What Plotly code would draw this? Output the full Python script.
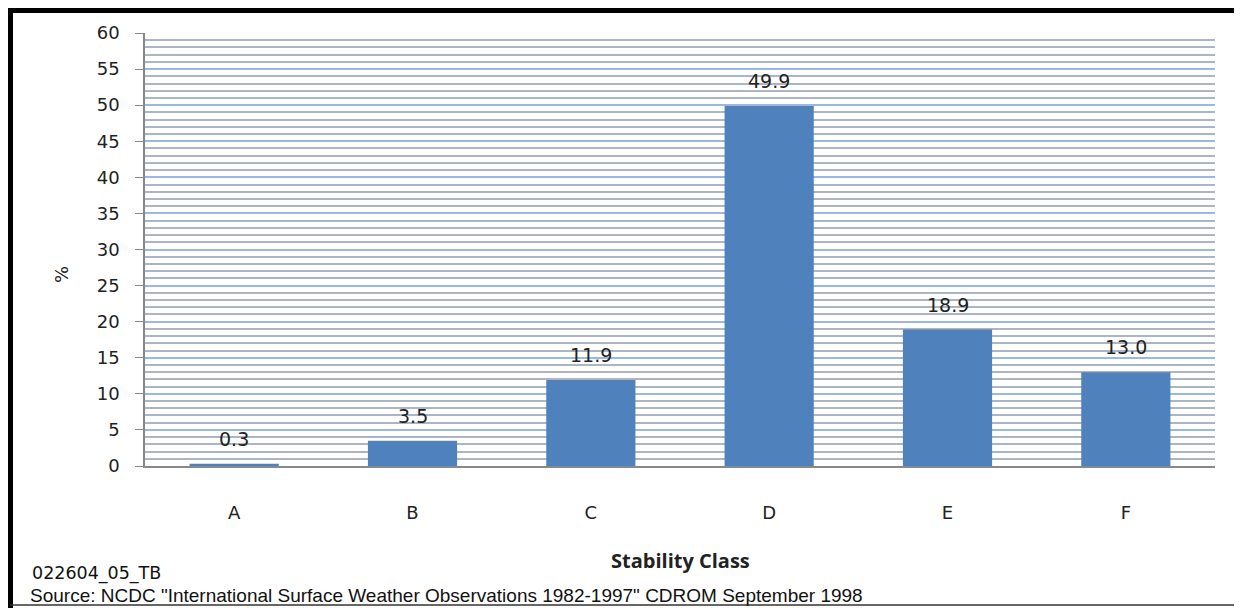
import plotly.graph_objects as go

# ---- data ----
categories = ["A", "B", "C", "D", "E", "F"]
percent = [0.3, 3.5, 11.9, 49.9, 18.9, 13.0]
value_labels = ["0.3", "3.5", "11.9", "49.9", "18.9", "13.0"]
y_ticks = list(range(0, 61, 5))
x_title = "Stability Class"
y_title = "%"
footnote_id = "022604_05_TB"
footnote_source = 'Source: NCDC "International Surface Weather Observations 1982-1997" CDROM September 1998'

# ---- layout geometry (reference-page pixels; page body has an 8px offset) ----
OFF = 8
W, H = 1242 - OFF, 608 - OFF
L, R, T, B = 145 - OFF, 1215 - OFF, 33 - OFF, 466 - OFF  # plot area edges in figure px


def px(x):
    return (x - OFF - L) / (R - L)


def py(y):
    return (B - (y - OFF)) / (B - T)


fig = go.Figure()
fig.add_trace(go.Bar(
    x=categories, y=percent,
    marker=dict(color="#4f81bd", line=dict(width=0)),
    width=0.5, hoverinfo="skip",
))

annotations = []
for c, v, lab in zip(categories, percent, value_labels):
    annotations.append(dict(
        x=c, y=v, xref="x", yref="y", text=lab, showarrow=False,
        yanchor="bottom", yshift=12,
        font=dict(family="DejaVu Sans", size=19, color="#222222"),
    ))

annotations += [
    dict(x=px(680), y=py(560), xref="paper", yref="paper", text="<b>" + x_title + "</b>",
         showarrow=False, xanchor="center", yanchor="middle",
         font=dict(family="Open Sans", size=20, color="#222222")),
    dict(x=px(61), y=py(275), xref="paper", yref="paper", text=y_title, textangle=-90,
         showarrow=False, xanchor="center", yanchor="middle",
         font=dict(family="DejaVu Sans", size=18, color="#222222")),
    dict(x=px(30), y=py(573), xref="paper", yref="paper", text=footnote_id,
         showarrow=False, xanchor="left", yanchor="middle",
         font=dict(family="DejaVu Sans", size=17.5, color="#111111")),
    dict(x=px(28), y=py(595), xref="paper", yref="paper", text=footnote_source,
         showarrow=False, xanchor="left", yanchor="middle",
         font=dict(family="Liberation Sans", size=19, color="#111111")),
]

shapes = [
    # outer frame: thick top/left, thin right/bottom
    dict(type="line", xref="paper", yref="paper", x0=px(8), x1=px(1242), y0=py(10.5), y1=py(10.5),
         line=dict(color="black", width=5)),
    dict(type="line", xref="paper", yref="paper", x0=px(10.5), x1=px(10.5), y0=py(8), y1=py(608),
         line=dict(color="black", width=5)),
    dict(type="line", xref="paper", yref="paper", x0=px(1239), x1=px(1239), y0=py(8), y1=py(606),
         line=dict(color="#555555", width=1.5)),
    dict(type="line", xref="paper", yref="paper", x0=px(10), x1=px(1240), y0=py(605), y1=py(605),
         line=dict(color="#333333", width=1.5)),
]

fig.update_layout(
    width=W, height=H,
    margin=dict(l=L, r=W - R, t=T, b=H - B, pad=0),
    paper_bgcolor="white", plot_bgcolor="white",
    showlegend=False, bargap=0.5,
    annotations=annotations, shapes=shapes,
    font=dict(family="DejaVu Sans", size=18, color="#222222"),
)
fig.update_yaxes(
    range=[0, 60], tickvals=y_ticks, ticks="outside", ticklen=8, tickcolor="#888888",
    showline=True, linecolor="#888888", linewidth=1.5,
    showgrid=True, gridcolor="#9bb7e3", gridwidth=1.5,
    minor=dict(dtick=1, showgrid=True, gridcolor="#aab5c6", gridwidth=1.5, ticks=""),
    tickfont=dict(family="DejaVu Sans", size=18, color="#222222"),
    ticklabelstandoff=12,
    zeroline=False, fixedrange=True,
)
fig.update_xaxes(
    showline=True, linecolor="#888888", linewidth=1.5, ticks="",
    tickfont=dict(family="DejaVu Sans", size=18, color="#222222"),
    ticklabelstandoff=30, fixedrange=True,
)

fig.write_html("out.html", config={"displayModeBar": False})
